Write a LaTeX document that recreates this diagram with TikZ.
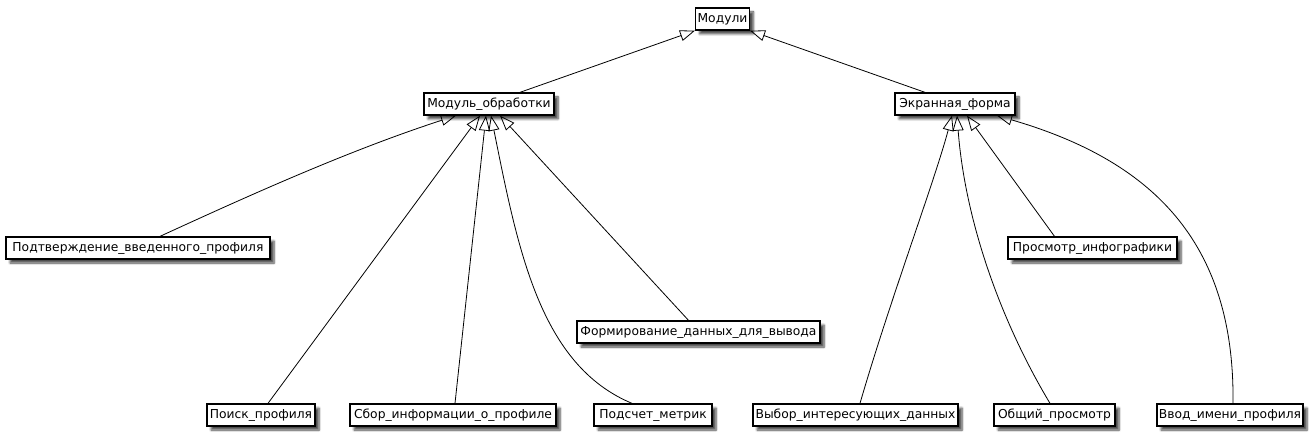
\documentclass[tikz,border=0pt]{standalone}
\usepackage{fontspec}
\setmainfont{DejaVu Sans}
\usetikzlibrary{arrows.meta,shadows.blur}
\begin{document}
\begin{tikzpicture}[x=1pt,y=-1pt,
  box/.style={draw=black, line width=1.3pt, fill=white, minimum height=22pt, inner xsep=2pt, inner ysep=0pt,
    font=\fontsize{12.3}{15}\selectfont,
    blur shadow={shadow xshift=4pt, shadow yshift=-4pt, shadow blur steps=6, shadow opacity=70}},
  inh/.style={draw=black, line width=0.8pt, -{Triangle[open, length=15pt, width=11pt, line width=0.8pt]}}]
\useasboundingbox (0,0) rectangle (1315,438);
\node[box, minimum width=53pt] (mod) at (722.5,19) {Модули};
\node[box, minimum width=130pt] (mo) at (489,104) {Модуль\_обработки};
\node[box, minimum width=120pt] (ef) at (955,104) {Экранная\_форма};
\node[box, minimum width=264pt] (pv) at (138,248) {Подтверждение\_введенного\_профиля};
\node[box, minimum width=243pt] (fd) at (698.5,332) {Формирование\_данных\_для\_вывода};
\node[box, minimum width=169pt] (pi) at (1092.5,248) {Просмотр\_инфографики};
\node[box, minimum width=108pt] (pp) at (261,415) {Поиск\_профиля};
\node[box, minimum width=206pt] (si) at (453,415) {Сбор\_информации\_о\_профиле};
\node[box, minimum width=118pt] (pm) at (653,415) {Подсчет\_метрик};
\node[box, minimum width=205pt] (vd) at (855.5,415) {Выбор\_интересующих\_данных};
\node[box, minimum width=121pt] (op) at (1054.5,415) {Общий\_просмотр};
\node[box, minimum width=146pt] (vi) at (1230,415) {Ввод\_имени\_профиля};

\draw[inh] ([xshift=31pt]mo.north) -- (mod.south west);
\draw[inh] ([xshift=-30pt]ef.north) -- (mod.south east);

\draw[inh] ([xshift=22pt]pv.north) .. controls (250,195) and (350,150) .. ([xshift=-33pt]mo.south);
\draw[inh] ([xshift=7pt]pp.north) -- ([xshift=-9pt]mo.south);
\draw[inh] ([xshift=2pt]si.north) -- ([xshift=-3pt]mo.south);
\draw[inh] ([xshift=-21pt]pm.north) .. controls (540,365) and (518,250) .. ([xshift=2pt]mo.south);
\draw[inh] ([xshift=-10pt]fd.north) -- ([xshift=11pt]mo.south);

\draw[inh] ([xshift=4.5pt]vd.north) .. controls (890,300) and (935,180) .. ([xshift=-3pt]ef.south);
\draw[inh] ([xshift=-4.5pt]op.north) .. controls (1000,320) and (965,220) .. ([xshift=2pt]ef.south);
\draw[inh] ([xshift=-38pt]pi.north) -- ([xshift=12pt]ef.south);
\draw[inh] ([xshift=3pt]vi.north) .. controls (1235,240) and (1150,160) .. ([xshift=42pt]ef.south);
\end{tikzpicture}
\end{document}
